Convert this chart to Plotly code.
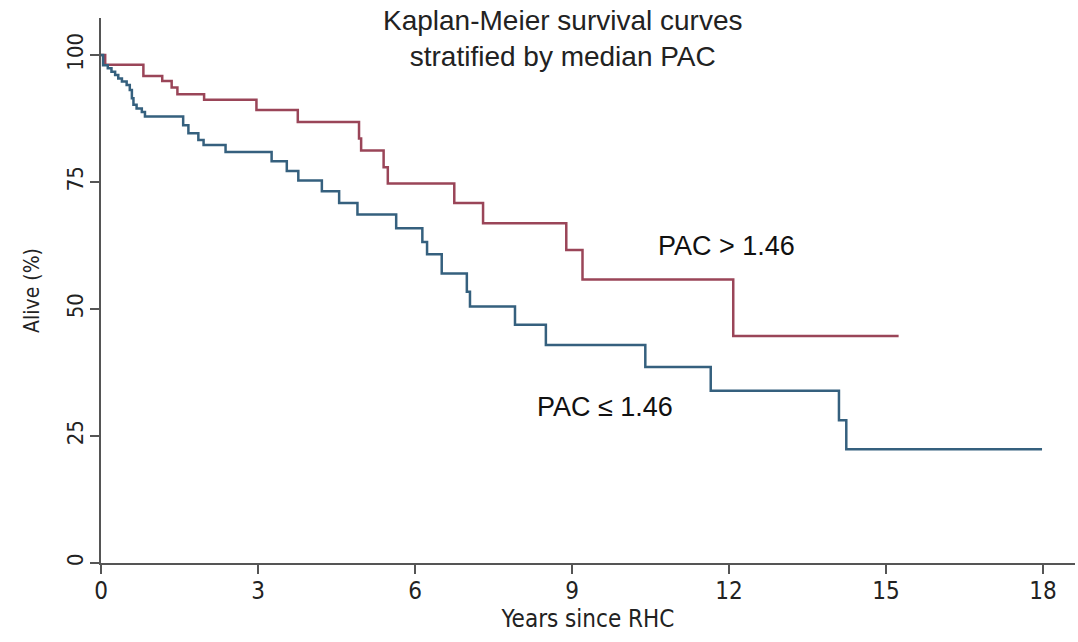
import plotly.graph_objects as go

# Kaplan-Meier step data (time in years, survival %)
high_t = [0, 0.08, 0.81, 1.17, 1.35, 1.46, 1.97, 2.97, 3.76, 4.93, 4.97, 5.40, 5.48, 6.75, 7.30, 8.89, 9.20, 12.08, 15.24]
high_s = [100, 98.1, 95.9, 94.9, 93.6, 92.3, 91.2, 89.2, 86.8, 83.6, 81.2, 77.9, 74.7, 70.9, 66.9, 61.6, 55.8, 44.7, 44.7]

low_t = [0, 0.04, 0.13, 0.20, 0.27, 0.33, 0.40, 0.49, 0.55, 0.59, 0.62, 0.68, 0.78, 0.84, 1.57, 1.67, 1.86, 1.96, 2.38,
         3.26, 3.55, 3.77, 4.22, 4.55, 4.90, 5.64, 6.14, 6.23, 6.51, 6.99, 7.05, 7.91, 8.50, 10.40, 11.65, 14.10, 14.24, 17.98]
low_s = [100, 98.0, 97.4, 96.7, 96.1, 95.4, 94.8, 94.1, 93.1, 91.5, 90.2, 89.5, 88.8, 87.9, 86.2, 84.6, 83.3, 82.3, 80.9,
         79.1, 77.2, 75.3, 73.2, 70.9, 68.6, 65.9, 63.2, 60.8, 57.0, 53.4, 50.5, 46.9, 42.9, 38.6, 33.9, 28.1, 22.4, 22.4]

x_ticks = [0, 3, 6, 9, 12, 15, 18]
y_ticks = [0, 25, 50, 75, 100]

RED = "#9a4558"
BLUE = "#35607e"
AXIS = "#555555"
FONT = "Liberation Sans"
NARROW = "Liberation Sans Narrow, DejaVu Sans Condensed, Liberation Sans"

fig = go.Figure()
fig.add_trace(go.Scatter(x=high_t, y=high_s, mode="lines", line=dict(color=RED, width=2.5, shape="hv"),
                         name="PAC > 1.46", showlegend=False))
fig.add_trace(go.Scatter(x=low_t, y=low_s, mode="lines", line=dict(color=BLUE, width=2.5, shape="hv"),
                         name="PAC ≤ 1.46", showlegend=False))

fig.add_annotation(x=0.474, y=1.0, xref="paper", yref="paper", yanchor="top", xanchor="center", yshift=14,
                   text="Kaplan-Meier survival curves<br>stratified by median PAC", showarrow=False,
                   borderpad=0, font=dict(family=FONT, size=28, color="#222222"))
fig.add_annotation(x=11.95, y=62.5, text="PAC > 1.46", showarrow=False,
                   font=dict(family=FONT, size=27, color="#111111"))
fig.add_annotation(x=9.63, y=30.8, text="PAC ≤ 1.46", showarrow=False,
                   font=dict(family=FONT, size=27, color="#111111"))

fig.update_layout(
    width=1078, height=642,
    margin=dict(l=101, r=3, t=18, b=79),
    plot_bgcolor="white", paper_bgcolor="white",
    font=dict(family=FONT, color="#222222"),
)
fig.update_xaxes(range=[0, 18.61], tickvals=x_ticks, ticktext=[str(v) for v in x_ticks],
                 showgrid=False, zeroline=False, showline=True, linecolor=AXIS, linewidth=2,
                 ticks="outside", ticklen=9, tickcolor=AXIS, tickwidth=1.5, ticklabelstandoff=-4,
                 tickfont=dict(family=NARROW, size=24, color="#222222"),
                 title=dict(text="Years since RHC", font=dict(family=NARROW, size=24, color="#222222"), standoff=2))
fig.update_yaxes(range=[0, 107.3], tickvals=y_ticks, ticktext=[str(v) for v in y_ticks],
                 showgrid=False, zeroline=False, showline=True, linecolor=AXIS, linewidth=2,
                 ticks="outside", ticklen=9, tickcolor=AXIS, tickwidth=1.5, tickangle=-90, ticklabelstandoff=-2,
                 tickfont=dict(family=NARROW, size=22, color="#222222"),
                 title=dict(text="Alive (%)", font=dict(family=NARROW, size=21, color="#222222"), standoff=18))

fig.write_html("out.html", config={"displayModeBar": False},
               post_script="document.body.style.margin='0';")
